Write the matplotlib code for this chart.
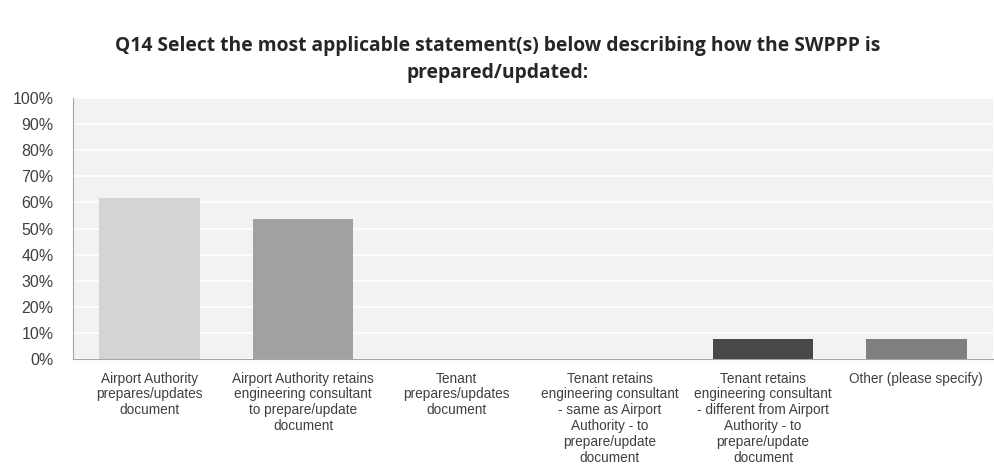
import matplotlib.pyplot as plt
from matplotlib.ticker import PercentFormatter

categories = [
    "Airport Authority\nprepares/updates\ndocument",
    "Airport Authority retains\nengineering consultant\nto prepare/update\ndocument",
    "Tenant\nprepares/updates\ndocument",
    "Tenant retains\nengineering consultant\n- same as Airport\nAuthority - to\nprepare/update\ndocument",
    "Tenant retains\nengineering consultant\n- different from Airport\nAuthority - to\nprepare/update\ndocument",
    "Other (please specify)",
]
values = [0.615, 0.538, 0.0, 0.0, 0.077, 0.077]
colors = ["#d4d4d4", "#a1a1a1", "#c8c8c8", "#bcbcbc", "#484848", "#7f7f7f"]
yticks = [i / 10 for i in range(11)]

plt.rcParams["font.family"] = ["Liberation Sans", "DejaVu Sans"]

fig = plt.figure(figsize=(9.95, 4.66), dpi=100)
ax = fig.add_axes([0.0734, 0.2296, 0.9246, 0.5601])
ax.set_facecolor("#f2f2f2")

x = range(len(categories))
ax.bar(x, values, width=0.655, color=colors, zorder=2)

ax.set_xlim(-0.5, len(categories) - 0.5)
ax.set_ylim(0, 1)
ax.set_yticks(yticks)
ax.yaxis.set_major_formatter(PercentFormatter(1.0, decimals=0))
ax.grid(axis="y", color="white", linewidth=1.2, zorder=1)
ax.set_axisbelow(True)

ax.set_xticks(list(x))
ax.set_xticklabels(categories, fontsize=9.8, color="#404040", linespacing=1.17,
                   va="top")
ax.tick_params(axis="x", length=0, pad=9)
ax.tick_params(axis="y", length=0, pad=14, labelsize=11.5, labelcolor="#404040")

for side in ("top", "right"):
    ax.spines[side].set_visible(False)
for side in ("left", "bottom"):
    ax.spines[side].set_color("#a6a6a6")

fig.text(0.5, 0.873,
         "Q14 Select the most applicable statement(s) below describing how the SWPPP is\nprepared/updated:",
         ha="center", va="center", fontsize=13.9, fontweight="bold",
         family="Open Sans", color="#262626", linespacing=1.45)

fig.savefig("out.png", dpi=100)
